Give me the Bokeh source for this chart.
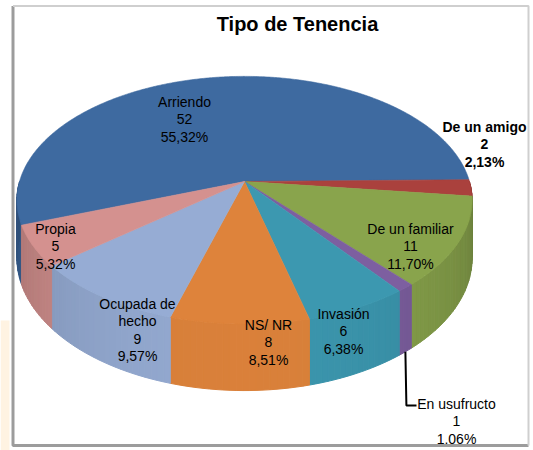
import math
from bokeh.plotting import figure
from bokeh.models import Range1d
from bokeh.core.properties import value
from bokeh.embed import file_html
from bokeh.resources import INLINE

# ---------------- data ----------------
title_text = "Tipo de Tenencia"
categories = ["Arriendo", "De un amigo", "De un familiar", "En usufructo",
              "Invasión", "NS/ NR", "Ocupada de hecho", "Propia"]
counts = [52, 2, 11, 1, 6, 8, 9, 5]

# ---------------- style / layout ----------------
colors = ["#3E6AA0", "#AA413D", "#89A44C", "#7D5FA0",
          "#3C98B0", "#DE833B", "#96ACD4", "#D4918F"]
label_x = [184, 484, 410, 456, 343, 268, 137, 55]
label_y = [101, 126, 228, 403, 313, 324, 303, 228]
label_bold = [False, True, False, False, False, False, False, False]
wrap = {"Ocupada de hecho": ["Ocupada de", "hecho"]}
LINE_H = 17.5
FONT = "Liberation Sans"

CX, CY, RX, RY, K, H = 244.0, 181.0, 225.0, 121.0, 0.151, 56.5
FIRST_SLICE_ANGLE = 250  # Excel style, clockwise from 12 o'clock

W, HGT = 533, 450
p = figure(width=W, height=HGT, output_backend="svg", toolbar_location=None,
           x_range=Range1d(0, W), y_range=Range1d(HGT, 0),
           min_border=0, outline_line_color=None, background_fill_color="white",
           border_fill_color="white")
p.xaxis.visible = False
p.yaxis.visible = False
p.grid.visible = False


def proj(theta_deg, z=0.0):
    t = math.radians(theta_deg)
    u, v = math.cos(t), math.sin(t)
    f = 1.0 / (1.0 + K * v)
    return CX + RX * u * f, CY - RY * v * f + H * z * f


def shade(hexcol, fac):
    r, g, b = int(hexcol[1:3], 16), int(hexcol[3:5], 16), int(hexcol[5:7], 16)
    r, g, b = [max(0, min(255, int(round(c * fac)))) for c in (r, g, b)]
    return "#%02x%02x%02x" % (r, g, b)


# faint page tint at the far left
p.quad(left=[0], right=[9], top=[320], bottom=[450], fill_color="#FFF3E2",
       line_color=None)

total = float(sum(counts))
start_math = 90.0 - FIRST_SLICE_ANGLE
slices = []
cur = start_math
for c in counts:
    span = c / total * 360.0
    slices.append((cur, cur - span))  # clockwise = decreasing angle
    cur -= span

# ---------- side walls (front half only) ----------
sx, sy, sc = [], [], []
for (a0, a1), col in zip(slices, colors):
    for n in range(-2, 3):
        lo, hi = 180 + 360 * n, 360 + 360 * n
        b0, b1 = min(a0, hi), max(a1, lo)
        if b0 <= b1:
            continue
        steps = max(1, int(math.ceil((b0 - b1) / 1.5)))
        angs = [b0 - (b0 - b1) * i / steps for i in range(steps + 1)]
        for aa, ab in zip(angs[:-1], angs[1:]):
            pts = [proj(aa, 0), proj(ab, 0), proj(ab, 1), proj(aa, 1)]
            mid = math.radians((aa + ab) / 2)
            fac = 0.76 + 0.22 * (-math.sin(mid))
            sx.append([q[0] for q in pts])
            sy.append([q[1] for q in pts])
            sc.append(shade(col, fac))
p.patches(sx, sy, fill_color=sc, line_color=sc, line_width=1)

# ---------- top faces ----------
tx, ty = [], []
for (a0, a1) in slices:
    steps = max(2, int(math.ceil((a0 - a1) / 0.5)))
    xs, ys = [CX], [CY]
    for i in range(steps + 1):
        x, y = proj(a0 - (a0 - a1) * i / steps, 0)
        xs.append(x)
        ys.append(y)
    tx.append(xs)
    ty.append(ys)
p.patches(tx, ty, fill_color=colors, line_color=colors, line_width=0.6)

# ---------- leader line for small slice ----------
i_u = categories.index("En usufructo")
mid_u = (slices[i_u][0] + slices[i_u][1]) / 2
lx0, ly0 = proj(mid_u, 1)
ly1 = label_y[i_u] + 2
p.line([lx0, lx0 + 1, label_x[i_u] - 40], [ly0, ly1, ly1],
       line_color="black", line_width=2)

# ---------- labels ----------
for name, c, x, y, bold in zip(categories, counts, label_x, label_y, label_bold):
    pct = ("%.2f" % (c / total * 100)).replace(".", ",") + "%"
    lines = wrap.get(name, [name]) + [str(c), pct]
    ys = [y + LINE_H * i for i in range(len(lines))]
    p.text([x] * len(lines), ys, text=lines, text_align="center",
           text_baseline="middle", text_font=value(FONT),
           text_font_size="14px", text_color="black",
           text_font_style="bold" if bold else "normal")

# ---------- title ----------
p.text([297], [23], text=[title_text], text_align="center", text_baseline="middle",
       text_font=value(FONT), text_font_size="20px", text_font_style="bold",
       text_color="black")

# ---------- chart frame ----------
p.line([12.5, 12.5, 528], [5.5, 445, 445], line_color="#9C9C9C", line_width=3)
p.line([12.5, 528, 528], [5.5, 5.5, 445], line_color="#CFCFCF", line_width=2)

open("out.html", "w").write(file_html(p, INLINE))
